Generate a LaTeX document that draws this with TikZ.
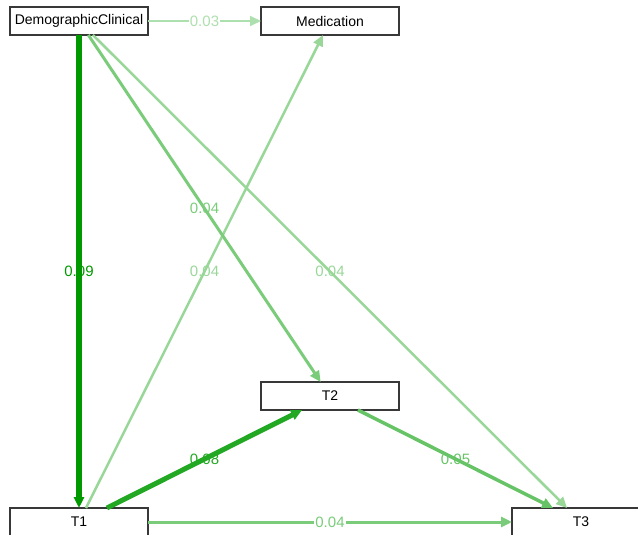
\documentclass[tikz,border=0pt]{standalone}
\usepackage{fontspec}
\setmainfont{Liberation Sans}
\usetikzlibrary{arrows.meta, positioning}
\definecolor{EdgeDark}{HTML}{009900}
\definecolor{EdgeStrong}{HTML}{22A822}
\definecolor{EdgeMid}{HTML}{66C466}
\definecolor{EdgeSoft}{HTML}{7ACC7A}
\definecolor{EdgeLight}{HTML}{99D799}
\definecolor{EdgePale}{HTML}{AEDFAE}
\definecolor{BoxLine}{HTML}{383838}

\begin{document}
\begin{tikzpicture}[
    x=1pt, y=-1pt,
    box/.style={rectangle, draw=BoxLine, line width=1.2pt, fill=white, minimum width=138pt, minimum height=28pt, inner sep=0pt, outer sep=0pt, font=\fontsize{14}{16}\selectfont},
    path/.style={-{Triangle[length=11pt, width=10pt]}, color=#1},
    weight/.style={midway, font=\fontsize{15}{17}\selectfont, text=#1, inner sep=1pt}
  ]
  \useasboundingbox (0,0) rectangle (638,535);

  \node[box] (dc) at (79,21) {DemographicClinical};
  \node[box, right=113pt of dc] (med) {Medication};
  \node[box, below=473pt of dc] (t1) {T1};
  \node[box, below=347pt of med] (t2) {T2};
  \node[box, right=364pt of t1] (t3) {T3};

  \draw[path=EdgeLight, line width=2.5pt] (dc) -- node[weight=EdgeLight]{0.04} (t3);
  \draw[path=EdgeLight, line width=2.5pt] (t1) -- node[weight=EdgeLight]{0.04} (med);
  \draw[path=EdgeSoft, line width=3pt] (dc) -- node[weight=EdgeSoft]{0.04} (t2);
  \draw[path=EdgePale, line width=2pt] (dc) -- node[weight=EdgePale, fill=white]{0.03} (med);
  \draw[path=EdgeDark, line width=6pt] (dc) -- node[weight=EdgeDark]{0.09} (t1);
  \draw[path=EdgeStrong, line width=5pt] (t1) -- node[weight=EdgeStrong]{0.08} (t2);
  \draw[path=EdgeMid, line width=3.5pt] (t2) -- node[weight=EdgeMid]{0.05} (t3);
  \draw[path=EdgeSoft, line width=3pt] (t1) -- node[weight=EdgeSoft, fill=white]{0.04} (t3);
\end{tikzpicture}
\end{document}
